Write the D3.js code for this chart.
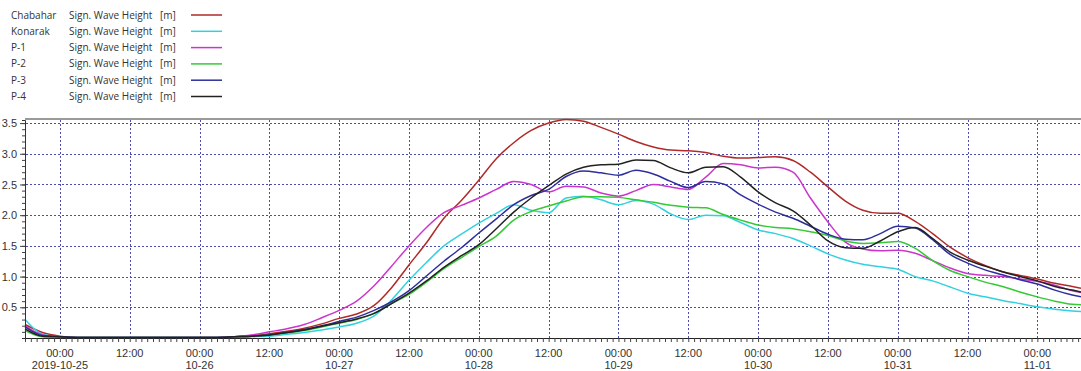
<!DOCTYPE html>
<html>
<head>
<meta charset="utf-8">
<script src="https://cdn.jsdelivr.net/npm/d3@7"></script>
<style>
  body { margin: 0; background: #fff; }
  svg { display: block; }
</style>
</head>
<body>
<svg id="chart"></svg>
<script>
// Station names and series values, every 3 hours from 2019-10-24 18:00, last one at 11-01 07:30
const stations = ['Chabahar', 'Konarak', 'P-1', 'P-2', 'P-3', 'P-4'];
const colors = ['#b02a2a', '#33d1df', '#cc35cc', '#35c935', '#2e2e9c', '#222222'];

const chabahar = [0.22, 0.09, 0.03, 0.01, 0.01, 0.01, 0.01, 0.01, 0.01, 0.01, 0.01, 0.01,
  0.02, 0.04, 0.07, 0.11, 0.16, 0.23, 0.32, 0.39, 0.53, 0.82, 1.19, 1.55, 1.95, 2.24,
  2.57, 2.92, 3.18, 3.38, 3.50, 3.56, 3.53, 3.43, 3.32, 3.20, 3.11, 3.06, 3.05, 3.02,
  2.96, 2.93, 2.94, 2.95, 2.89, 2.70, 2.46, 2.23, 2.08, 2.03, 2.03, 1.90, 1.70, 1.48,
  1.31, 1.18, 1.08, 1.02, 0.96, 0.89, 0.84, 0.81];
const konarak = [0.30, 0.06, 0.02, 0.01, 0.01, 0.01, 0.01, 0.01, 0.01, 0.01, 0.01, 0.01,
  0.01, 0.02, 0.03, 0.06, 0.09, 0.13, 0.18, 0.24, 0.36, 0.62, 0.94, 1.23, 1.50, 1.69,
  1.87, 2.03, 2.17, 2.08, 2.04, 2.28, 2.31, 2.25, 2.17, 2.24, 2.18, 2.02, 1.93, 2.00,
  1.99, 1.88, 1.76, 1.70, 1.62, 1.50, 1.37, 1.27, 1.20, 1.16, 1.12, 1.00, 0.93, 0.83,
  0.73, 0.67, 0.61, 0.56, 0.51, 0.47, 0.44, 0.43];
const p1 = [0.20, 0.05, 0.02, 0.01, 0.01, 0.01, 0.01, 0.01, 0.01, 0.01, 0.01, 0.01,
  0.02, 0.05, 0.10, 0.15, 0.22, 0.33, 0.45, 0.60, 0.85, 1.17, 1.50, 1.80, 2.04, 2.16,
  2.28, 2.42, 2.55, 2.50, 2.38, 2.47, 2.46, 2.36, 2.31, 2.40, 2.50, 2.46, 2.42, 2.62,
  2.84, 2.82, 2.77, 2.78, 2.70, 2.28, 1.89, 1.56, 1.45, 1.42, 1.43, 1.38, 1.26, 1.14,
  1.05, 1.02, 1.00, 0.96, 0.92, 0.86, 0.77, 0.74];
const p2 = [0.12, 0.02, 0.01, 0.01, 0.01, 0.01, 0.01, 0.01, 0.01, 0.01, 0.01, 0.01,
  0.01, 0.03, 0.05, 0.08, 0.12, 0.18, 0.24, 0.30, 0.40, 0.56, 0.71, 0.91, 1.13, 1.31,
  1.49, 1.66, 1.92, 2.06, 2.15, 2.23, 2.30, 2.30, 2.29, 2.25, 2.21, 2.16, 2.13, 2.12,
  2.01, 1.92, 1.84, 1.80, 1.78, 1.73, 1.67, 1.58, 1.54, 1.55, 1.57, 1.46, 1.26, 1.10,
  1.00, 0.91, 0.84, 0.75, 0.67, 0.60, 0.55, 0.54];
const p3 = [0.18, 0.04, 0.02, 0.01, 0.01, 0.01, 0.01, 0.01, 0.01, 0.01, 0.01, 0.01,
  0.02, 0.03, 0.05, 0.09, 0.14, 0.20, 0.27, 0.34, 0.45, 0.59, 0.77, 1.01, 1.25, 1.47,
  1.71, 1.94, 2.17, 2.32, 2.42, 2.63, 2.72, 2.69, 2.65, 2.73, 2.67, 2.55, 2.45, 2.55,
  2.51, 2.33, 2.18, 2.05, 1.95, 1.82, 1.69, 1.61, 1.60, 1.70, 1.82, 1.79, 1.60, 1.36,
  1.22, 1.11, 1.03, 0.95, 0.88, 0.78, 0.70, 0.67];
const p4 = [0.15, 0.03, 0.02, 0.01, 0.01, 0.01, 0.01, 0.01, 0.01, 0.01, 0.01, 0.01,
  0.02, 0.03, 0.05, 0.09, 0.13, 0.19, 0.25, 0.31, 0.40, 0.56, 0.73, 0.93, 1.15, 1.34,
  1.52, 1.78, 2.05, 2.28, 2.48, 2.67, 2.78, 2.82, 2.83, 2.90, 2.89, 2.77, 2.69, 2.78,
  2.79, 2.62, 2.38, 2.20, 2.07, 1.84, 1.58, 1.47, 1.46, 1.58, 1.73, 1.80, 1.62, 1.40,
  1.27, 1.17, 1.08, 1.00, 0.93, 0.84, 0.78, 0.75];
const series = [chabahar, konarak, p1, p2, p3, p4];

const yTicks = [0.5, 1.0, 1.5, 2.0, 2.5, 3.0, 3.5];

const start = new Date(2019, 9, 24, 18, 0);
const end = new Date(2019, 10, 1, 7, 30);
const times = d3.range(61).map((i) => d3.timeHour.offset(start, 3 * i)).concat([end]);

const width = 1081;
const height = 371;
const marginTop = 120;
const marginRight = 0;
const marginBottom = 33;
const marginLeft = 25;

const svg = d3.select('#chart')
  .attr('width', width)
  .attr('height', height)
  .attr('viewBox', [0, 0, width, height]);

const x = d3.scaleTime()
  .domain([start, end])
  .range([marginLeft, width - marginRight]);

const y = d3.scaleLinear()
  .domain([0, 3.55])
  .range([height - marginBottom, marginTop]);

const gridColor = '#4c4cb0';

// dotted grid
svg.append('g')
  .attr('stroke', gridColor)
  .attr('stroke-width', 1)
  .attr('stroke-dasharray', '2,2')
  .call((g) => g.selectAll('line.h')
    .data(yTicks)
    .join('line')
    .attr('class', 'h')
    .attr('x1', marginLeft + 1)
    .attr('x2', width - marginRight)
    .attr('y1', (d) => Math.round(y(d)) + 0.5)
    .attr('y2', (d) => Math.round(y(d)) + 0.5))
  .call((g) => g.selectAll('line.v')
    .data(d3.timeHour.every(12).range(start, end))
    .join('line')
    .attr('class', 'v')
    .attr('x1', (d) => Math.round(x(d)) + 0.5)
    .attr('x2', (d) => Math.round(x(d)) + 0.5)
    .attr('y1', marginTop)
    .attr('y2', height - marginBottom));

// top frame
svg.append('line')
  .attr('x1', marginLeft)
  .attr('x2', width)
  .attr('y1', marginTop - 1)
  .attr('y2', marginTop - 1)
  .attr('stroke', '#9a9a9a')
  .attr('stroke-width', 2);

// lines
const line = d3.line()
  .x((d, i) => x(times[i]))
  .y((d) => y(d))
  .curve(d3.curveMonotoneX);

svg.append('g')
  .attr('fill', 'none')
  .attr('stroke-width', 1.5)
  .selectAll('path')
  .data(series)
  .join('path')
  .attr('stroke', (d, i) => colors[i])
  .attr('d', line);

// x axis: hourly minor ticks, labels every 12 hours
const fmtTime = d3.timeFormat('%H:%M');
svg.append('g')
  .attr('transform', `translate(0,${height - marginBottom})`)
  .call(d3.axisBottom(x).ticks(d3.timeHour.every(1)).tickSize(4).tickFormat(''))
  .call((g) => g.select('.domain').attr('stroke', '#222'))
  .call((g) => g.selectAll('.tick line').attr('stroke', '#444'));

const labelTimes = d3.timeHour.every(12).range(start, end);
const xl = svg.append('g')
  .attr('font-family', 'Arial, "Liberation Sans", sans-serif')
  .attr('font-size', 11)
  .attr('fill', '#333')
  .attr('text-anchor', 'middle');
xl.selectAll('text.t')
  .data(labelTimes)
  .join('text')
  .attr('class', 't')
  .attr('x', (d) => x(d))
  .attr('y', 357)
  .text((d) => fmtTime(d));
xl.selectAll('text.d')
  .data(labelTimes.filter((d) => d.getHours() === 0))
  .join('text')
  .attr('class', 'd')
  .attr('x', (d) => x(d))
  .attr('y', 369)
  .text((d, i) => (i === 0 ? d3.timeFormat('%Y-%m-%d')(d) : d3.timeFormat('%m-%d')(d)));

// y axis
svg.append('g')
  .attr('transform', `translate(${marginLeft},0)`)
  .call(d3.axisLeft(y).tickValues(d3.range(1, 36).map((v) => v / 10)).tickSize(3).tickFormat(''))
  .call((g) => g.select('.domain').attr('stroke', '#333'))
  .call((g) => g.selectAll('.tick line').attr('stroke', '#444'));

svg.append('g')
  .attr('transform', `translate(${marginLeft},0)`)
  .call(d3.axisLeft(y).tickValues(yTicks).tickSize(5).tickPadding(3).tickFormat(d3.format('.1f')))
  .call((g) => g.select('.domain').remove())
  .call((g) => g.selectAll('.tick line').attr('stroke', '#444'))
  .call((g) => g.selectAll('.tick text')
    .attr('font-family', 'Arial, "Liberation Sans", sans-serif')
    .attr('font-size', 11)
    .attr('fill', '#333'));

// legend
const legend = svg.append('g')
  .attr('font-family', '"Open Sans", "Noto Sans", sans-serif')
  .attr('font-size', 10)
  .attr('fill', '#333')
  .selectAll('g')
  .data(stations)
  .join('g')
  .attr('transform', (d, i) => `translate(0,${15 + i * 16.3})`);

legend.append('text').attr('x', 11).attr('dy', '0.35em').text((d) => d);
legend.append('text').attr('x', 69).attr('dy', '0.35em').text('Sign. Wave Height');
legend.append('text').attr('x', 160).attr('dy', '0.35em').text('[m]');
legend.append('line')
  .attr('x1', 191)
  .attr('x2', 222)
  .attr('stroke', (d, i) => colors[i])
  .attr('stroke-width', 1.5);
</script>
</body>
</html>
